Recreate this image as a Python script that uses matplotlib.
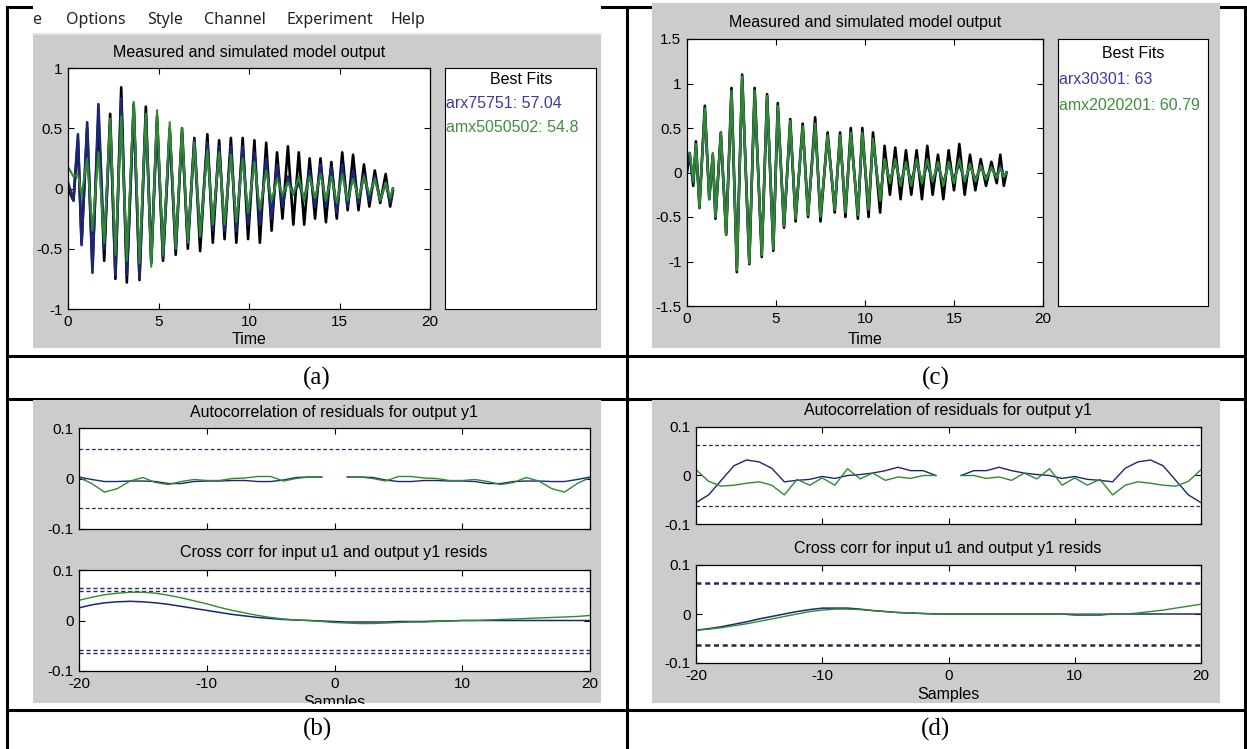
import matplotlib
matplotlib.use('Agg')
import matplotlib.pyplot as plt
from matplotlib.patches import Rectangle
from matplotlib.lines import Line2D
from matplotlib.ticker import FuncFormatter

W, H = 1247, 749

# ---- panel (a): measured and simulated output, peaks/troughs
t_a = [0, 0.3, 0.55, 0.75, 1.06, 1.35, 1.68, 2.0, 2.33, 2.62,
       2.94, 3.25, 3.63, 3.95, 4.3, 4.6, 4.92, 5.25, 5.62, 5.95,
       6.3, 6.62, 6.98, 7.3, 7.7, 8.0, 8.35, 8.65, 9.0, 9.3,
       9.65, 9.95, 10.3, 10.6, 10.95, 11.25, 11.55, 11.85, 12.15, 12.45,
       12.75, 13.05, 13.35, 13.65, 13.95, 14.25, 14.55, 14.85, 15.15, 15.45,
       15.75, 16.05, 16.35, 16.65, 16.95, 17.25, 17.55, 17.8, 17.95]
meas_a = [0.0, -0.1, 0.4, -0.45, 0.5, -0.65, 0.6, -0.6, 0.62, -0.75,
          0.84, -0.78, 0.7, -0.76, 0.68, -0.62, 0.6, -0.6, 0.5, -0.55,
          0.5, -0.5, 0.42, -0.52, 0.45, -0.45, 0.4, -0.42, 0.42, -0.45,
          0.42, -0.42, 0.4, -0.45, 0.38, -0.35, 0.3, -0.25, 0.35, -0.3,
          0.3, -0.3, 0.25, -0.25, 0.25, -0.28, 0.22, -0.25, 0.3, -0.18,
          0.28, -0.18, 0.2, -0.15, 0.15, -0.12, 0.12, -0.15, -0.02]
arx_a = [0.05, -0.1, 0.45, -0.47, 0.55, -0.7, 0.7, -0.5, 0.55, -0.72,
         0.75, -0.72, 0.68, -0.75, 0.62, -0.6, 0.55, -0.58, 0.48, -0.5,
         0.45, -0.45, 0.4, -0.4, 0.38, -0.35, 0.35, -0.35, 0.35, -0.35,
         0.35, -0.3, 0.3, -0.3, 0.25, -0.25, 0.2, -0.15, 0.1, -0.05,
         0.05, -0.1, 0.15, -0.15, 0.2, -0.15, 0.18, -0.2, 0.2, -0.15,
         0.15, -0.12, 0.12, -0.1, 0.1, -0.1, 0.05, -0.12, 0.0]
amx_a = [0.18, 0.1, 0.12, -0.05, 0.25, -0.35, 0.3, -0.45, 0.58, -0.55,
         0.6, -0.6, 0.72, -0.62, 0.62, -0.65, 0.65, -0.55, 0.55, -0.5,
         0.5, -0.45, 0.38, -0.4, 0.32, -0.3, 0.3, -0.3, 0.28, -0.28,
         0.25, -0.2, 0.22, -0.18, 0.15, -0.1, 0.08, -0.05, 0.05, -0.05,
         0.1, -0.1, 0.1, -0.08, 0.12, -0.1, 0.1, -0.12, 0.12, -0.1,
         0.08, -0.08, 0.1, -0.05, 0.08, -0.1, 0.05, -0.08, 0.0]

# ---- panel (c)
t_c = [0, 0.15, 0.35, 0.5, 0.7, 1.0, 1.25, 1.45, 1.6, 1.9,
       2.2, 2.5, 2.8, 3.1, 3.5, 3.8, 4.2, 4.5, 4.85, 5.1,
       5.45, 5.8, 6.1, 6.5, 6.8, 7.2, 7.5, 7.9, 8.3, 8.6,
       8.9, 9.2, 9.6, 9.85, 10.2, 10.45, 10.85, 11.1, 11.4, 11.7,
       12.0, 12.3, 12.6, 12.9, 13.2, 13.5, 13.8, 14.1, 14.4, 14.7,
       15.0, 15.3, 15.6, 15.9, 16.2, 16.5, 16.8, 17.1, 17.4, 17.6,
       17.8, 17.95]
meas_c = [0.0, 0.22, -0.15, 0.35, -0.4, 0.75, -0.3, 0.2, -0.52, 0.45,
          -0.7, 0.95, -1.12, 1.1, -1.03, 0.95, -0.95, 0.88, -0.88, 0.78,
          -0.62, 0.6, -0.55, 0.55, -0.5, 0.62, -0.55, 0.45, -0.45, 0.45,
          -0.5, 0.5, -0.52, 0.5, -0.5, 0.45, -0.45, 0.3, -0.25, 0.28,
          -0.3, 0.25, -0.25, 0.25, -0.3, 0.3, -0.25, 0.2, -0.3, 0.25,
          -0.2, 0.32, -0.25, 0.2, -0.2, 0.15, -0.15, 0.12, -0.12, 0.2,
          -0.15, 0.0]
arx_c = [0.05, 0.2, -0.12, 0.3, -0.35, 0.7, -0.28, 0.18, -0.5, 0.42,
         -0.68, 0.9, -1.05, 1.05, -1.0, 0.9, -0.9, 0.85, -0.85, 0.72,
         -0.6, 0.55, -0.5, 0.5, -0.45, 0.52, -0.48, 0.4, -0.4, 0.4,
         -0.42, 0.42, -0.45, 0.42, -0.4, 0.35, -0.3, 0.15, -0.1, 0.12,
         -0.12, 0.1, -0.1, 0.12, -0.12, 0.1, -0.1, 0.08, -0.12, 0.1,
         -0.08, 0.1, -0.1, 0.08, -0.08, 0.06, -0.06, 0.05, -0.05, 0.08,
         -0.05, 0.0]
amx_c = [0.2, 0.22, -0.1, 0.32, -0.4, 0.72, -0.3, 0.22, -0.5, 0.45,
         -0.7, 0.92, -1.1, 1.08, -1.02, 0.92, -0.93, 0.86, -0.86, 0.75,
         -0.6, 0.58, -0.52, 0.52, -0.48, 0.55, -0.5, 0.42, -0.42, 0.42,
         -0.45, 0.45, -0.48, 0.45, -0.42, 0.38, -0.32, 0.15, -0.12, 0.15,
         -0.15, 0.12, -0.15, 0.15, -0.12, 0.15, -0.1, 0.12, -0.15, 0.12,
         -0.12, 0.15, -0.1, 0.1, -0.1, 0.08, -0.08, 0.06, -0.06, 0.05,
         -0.05, 0.0]

# ---- residual correlations (lags)
lags_neg = list(range(-20, 0))
lags_pos = list(range(1, 21))
lags_all = list(range(-20, 21))

ac_arx_b_neg = [0.003, -0.002, -0.006, -0.006, -0.005, -0.005, -0.006, -0.010, -0.010, -0.006,
                -0.005, -0.005, -0.004, -0.004, -0.006, -0.006, -0.003, 0.002, 0.003, 0.003]
ac_arx_b_pos = [0.003, 0.003, 0.002, -0.003, -0.006, -0.006, -0.004, -0.004, -0.005, -0.005,
                -0.006, -0.010, -0.010, -0.006, -0.005, -0.005, -0.006, -0.006, -0.002, 0.003]
ac_amx_b_neg = [0.002, -0.010, -0.027, -0.020, -0.005, 0.002, -0.008, -0.012, -0.006, -0.002,
                -0.004, -0.004, 0.000, 0.001, 0.004, 0.004, -0.005, 0.000, 0.003, 0.003]
ac_amx_b_pos = [0.003, 0.003, 0.000, -0.005, 0.004, 0.004, 0.001, 0.000, -0.004, -0.004,
                -0.002, -0.006, -0.012, -0.008, 0.002, -0.005, -0.020, -0.027, -0.010, 0.002]
cc_arx_b = [0.025, 0.031, 0.035, 0.037, 0.038, 0.037, 0.035, 0.032, 0.028, 0.024,
            0.020, 0.016, 0.012, 0.009, 0.006, 0.004, 0.002, 0.001, 0.000, -0.001,
            -0.002, -0.003, -0.003, -0.003, -0.003, -0.002, -0.002, -0.002, -0.001, -0.001,
            0.0, 0.0, 0.0, 0.0, 0.0, 0.0, 0.0, 0.0, 0.0, 0.0, 0.0]
cc_amx_b = [0.040, 0.046, 0.051, 0.054, 0.056, 0.056, 0.054, 0.050, 0.045, 0.039,
            0.033, 0.026, 0.020, 0.015, 0.010, 0.006, 0.003, 0.001, 0.000, -0.002,
            -0.004, -0.005, -0.006, -0.006, -0.005, -0.004, -0.003, -0.003, -0.002, -0.001,
            0.000, 0.000, 0.001, 0.002, 0.003, 0.004, 0.005, 0.006, 0.007, 0.008, 0.010]
conf_b = [0.059, 0.065]

ac_arx_d_neg = [-0.056, -0.040, -0.010, 0.020, 0.032, 0.028, 0.015, -0.013, -0.010, -0.008,
                -0.002, -0.006, 0.000, 0.002, 0.005, 0.010, 0.017, 0.010, 0.010, 0.000]
ac_arx_d_pos = [0.000, 0.010, 0.010, 0.017, 0.010, 0.005, 0.002, 0.000, -0.006, -0.002,
                -0.008, -0.010, -0.013, 0.015, 0.028, 0.032, 0.020, -0.010, -0.040, -0.056]
ac_amx_d_neg = [0.012, -0.012, -0.022, -0.020, -0.016, -0.013, -0.020, -0.040, -0.008, -0.020,
                -0.005, -0.020, 0.014, -0.007, 0.005, -0.010, -0.003, -0.006, 0.000, 0.000]
ac_amx_d_pos = [0.000, 0.000, -0.006, -0.003, -0.010, 0.005, -0.007, 0.014, -0.020, -0.005,
                -0.020, -0.008, -0.040, -0.020, -0.013, -0.016, -0.020, -0.022, -0.012, 0.012]
cc_arx_d = [-0.033, -0.030, -0.026, -0.021, -0.016, -0.010, -0.005, 0.000, 0.005, 0.009,
            0.012, 0.012, 0.012, 0.010, 0.007, 0.005, 0.003, 0.002, 0.001, 0.000,
            0.0, 0.0, 0.0, 0.0, 0.0, 0.0, 0.0, 0.0, 0.0, 0.0,
            -0.002, -0.002, -0.002, 0.0, 0.0, 0.0, 0.0, 0.0, 0.0, 0.0, 0.0]
cc_amx_d = [-0.033, -0.031, -0.028, -0.024, -0.020, -0.015, -0.010, -0.005, 0.000, 0.005,
            0.008, 0.010, 0.010, 0.009, 0.007, 0.005, 0.003, 0.002, 0.001, 0.000,
            0.0, 0.0, 0.0, 0.0, 0.0, 0.0, 0.0, 0.0, 0.0, 0.0,
            0.0, 0.0, 0.0, 0.0, 0.0, 0.002, 0.005, 0.008, 0.012, 0.016, 0.020]
conf_d = 0.063

fits_a = ['arx75751: 57.04', 'amx5050502: 54.8']
fits_c = ['arx30301: 63', 'amx2020201: 60.79']
menu_items = ['e', 'Options', 'Style', 'Channel', 'Experiment', 'Help']
menu_x = [32, 66, 147, 204, 287, 391]

time_ticks = [0, 5, 10, 15, 20]
yticks_a = [-1, -0.5, 0, 0.5, 1]
yticks_c = [-1.5, -1, -0.5, 0, 0.5, 1, 1.5]
lag_ticks = [-20, -10, 0, 10, 20]
corr_ticks = [-0.1, 0, 0.1]

BLUE = '#1c2672'
GREEN = '#2f8a2f'
GREY = '#cccccc'

plt.rcParams['font.family'] = ['Liberation Sans', 'DejaVu Sans']
fig = plt.figure(figsize=(W / 100, H / 100), dpi=100)


def box(l, t, r, b):
    return [l / W, 1 - b / H, (r - l) / W, (b - t) / H]


def rect(l, t, r, b, color, z):
    fig.add_artist(Rectangle((l / W, 1 - b / H), (r - l) / W, (b - t) / H,
                             transform=fig.transFigure, facecolor=color,
                             edgecolor='none', zorder=z))


def line(x1, y1, x2, y2, lw=2.2, color='k', z=-10):
    fig.add_artist(Line2D([x1 / W, x2 / W], [1 - y1 / H, 1 - y2 / H],
                          transform=fig.transFigure, color=color, lw=lw, zorder=z))


def label(x, y, s, size=11.5, ha='center', **kw):
    fig.text(x / W, 1 - y / H, s, fontsize=size, ha=ha, va='center', **kw)


fmt = FuncFormatter(lambda v, p: '%g' % v)


def style(ax, xt, yt, xlim, ylim, xlabels=True):
    ax.set_xlim(xlim)
    ax.set_ylim(ylim)
    ax.set_xticks(xt)
    ax.set_yticks(yt)
    ax.xaxis.set_major_formatter(fmt)
    ax.yaxis.set_major_formatter(fmt)
    ax.tick_params(direction='in', length=4, width=0.8, top=True, right=True,
                   labelsize=11, colors='k')
    ax.tick_params(axis='x', pad=4)
    ax.tick_params(axis='y', pad=4)
    if not xlabels:
        ax.tick_params(labelbottom=False)
    for s in ax.spines.values():
        s.set_linewidth(0.9)


# table grid
for y in [7]:
    line(7, y, 33, y)
    line(601, y, 652, y)
    line(1220, y, 1245, y)
for y in [356, 399, 710]:
    line(7, y, 1245, y)
for x in [7, 627, 1245]:
    line(x, 7, x, 749)

# screenshots background
rect(33, 4, 601, 34, 'white', -6)
line(33, 34, 601, 34, lw=1.2, color='#dedede', z=-6)
rect(33, 35, 601, 348, GREY, -5)
rect(652, 3, 1220, 348, GREY, -5)
rect(33, 400, 601, 703, GREY, -5)
rect(652, 400, 1220, 703, GREY, -5)

for s, x in zip(menu_items, menu_x):
    label(x, 20, s, size=11.5, ha='left', family='Noto Sans', color='#222222')

# (a)
ax = fig.add_axes(box(68, 68, 430, 309))
ax.plot(t_a, meas_a, color='k', lw=1.9)
ax.plot(t_a, arx_a, color=BLUE, lw=1.9)
ax.plot(t_a, amx_a, color=GREEN, lw=1.5)
style(ax, time_ticks, yticks_a, (0, 20), (-1, 1))
label(249, 52, 'Measured and simulated model output')
label(249, 339, 'Time')

bx = fig.add_axes(box(445, 68, 596, 309))
bx.set_xticks([])
bx.set_yticks([])
label(521, 80, 'Best Fits')
label(446, 103, fits_a[0], ha='left', color='#3b3b9b')
label(446, 127, fits_a[1], ha='left', color='#3f8f3f')

# (c)
ax = fig.add_axes(box(687, 39, 1043, 306))
ax.plot(t_c, meas_c, color='k', lw=1.9)
ax.plot(t_c, arx_c, color=BLUE, lw=1.8)
ax.plot(t_c, amx_c, color=GREEN, lw=1.6)
style(ax, time_ticks, yticks_c, (0, 20), (-1.5, 1.5))
label(865, 23, 'Measured and simulated model output')
label(865, 339, 'Time')

bx = fig.add_axes(box(1058, 39, 1208, 306))
bx.set_xticks([])
bx.set_yticks([])
label(1133, 53, 'Best Fits')
label(1059, 80, fits_c[0], ha='left', color='#3b3b9b')
label(1059, 105, fits_c[1], ha='left', color='#3f8f3f')

# (b)
ax = fig.add_axes(box(79, 428, 590, 529))
for c in [conf_b[0], -conf_b[0]]:
    ax.axhline(c, color='#24305a', lw=0.9, ls=(0, (3, 2)))
ax.plot(lags_neg, ac_arx_b_neg, color=BLUE, lw=1.0)
ax.plot(lags_pos, ac_arx_b_pos, color=BLUE, lw=1.0)
ax.plot(lags_neg, ac_amx_b_neg, color=GREEN, lw=1.0)
ax.plot(lags_pos, ac_amx_b_pos, color=GREEN, lw=1.0)
style(ax, lag_ticks, corr_ticks, (-20, 20), (-0.1, 0.1), xlabels=False)
label(334, 412, 'Autocorrelation of residuals for output y1')

ax = fig.add_axes(box(79, 570, 590, 671))
for c in conf_b:
    ax.axhline(c, color='#24305a', lw=1.0, ls=(0, (3, 2)))
    ax.axhline(-c, color='#24305a', lw=1.0, ls=(0, (3, 2)))
ax.plot(lags_all, cc_arx_b, color=BLUE, lw=1.1)
ax.plot(lags_all, cc_amx_b, color=GREEN, lw=1.0)
style(ax, lag_ticks, corr_ticks, (-20, 20), (-0.1, 0.1))
label(334, 553, 'Cross corr for input u1 and output y1 resids')
label(334, 702, 'Samples')
rect(33, 703.5, 601, 708.5, 'white', 5)

# (d)
ax = fig.add_axes(box(696, 427, 1201, 524))
for c in [conf_d, -conf_d]:
    ax.axhline(c, color='#24305a', lw=0.9, ls=(0, (3, 2)))
ax.plot(lags_neg, ac_arx_d_neg, color=BLUE, lw=1.0)
ax.plot(lags_pos, ac_arx_d_pos, color=BLUE, lw=1.0)
ax.plot(lags_neg, ac_amx_d_neg, color=GREEN, lw=1.0)
ax.plot(lags_pos, ac_amx_d_pos, color=GREEN, lw=1.0)
style(ax, lag_ticks, corr_ticks, (-20, 20), (-0.1, 0.1), xlabels=False)
label(948, 410, 'Autocorrelation of residuals for output y1')

ax = fig.add_axes(box(696, 565, 1201, 663))
for c in [conf_d, -conf_d]:
    ax.axhline(c, color='#1c2a50', lw=1.8, ls=(0, (2, 1.5)))
ax.plot(lags_all, cc_arx_d, color=BLUE, lw=1.1)
ax.plot(lags_all, cc_amx_d, color=GREEN, lw=1.0)
style(ax, lag_ticks, corr_ticks, (-20, 20), (-0.1, 0.1))
label(948, 548, 'Cross corr for input u1 and output y1 resids')
label(948, 695, 'Samples')

# captions
for s, x, y in [('(a)', 317, 378), ('(c)', 936, 378), ('(b)', 317, 729), ('(d)', 936, 729)]:
    label(x, y, s, size=18, family='Liberation Serif')

fig.savefig('out.png', dpi=100)
